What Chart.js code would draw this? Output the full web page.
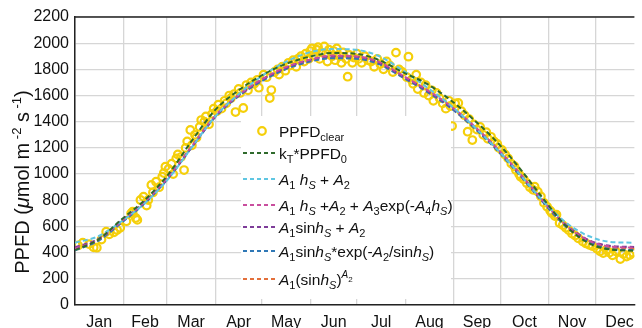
<!DOCTYPE html>
<html><head><meta charset="utf-8">
<script src="https://cdn.jsdelivr.net/npm/chart.js@4"></script>
<style>html,body{margin:0;padding:0;background:#fff}</style>
</head><body>
<canvas id="c" width="642" height="328" style="display:block;width:642px;height:328px"></canvas>
<script>
// ---- data ----
const monthLabels = ['Jan','Feb','Mar','Apr','May','Jun','Jul','Aug','Sep','Oct','Nov','Dec'];
const monthStarts = [0,31,59,90,120,151,181,212,243,273,304,334];
const monthMids = [15.5,45,74.5,105,135.5,166,196.5,227.5,258,288.5,319,349.5];
const yTicks = [0,200,400,600,800,1000,1200,1400,1600,1800,2000,2200];

const fitDays = [0,15,30,45,60,75,90,105,120,135,150,165,180,195,210,225,240,255,270,285,300,315,330,345,359];
const kTPPFD0  = [420,500,655,805,1000,1255,1490,1640,1755,1840,1895,1925,1920,1872,1780,1695,1575,1425,1255,1050,820,605,470,422,415];
const linHs    = [476,525,640,780,965,1205,1440,1610,1750,1855,1928,1955,1950,1902,1795,1670,1535,1375,1200,1005,800,630,525,480,476];
const linHsExp = [430,500,640,790,980,1215,1445,1605,1725,1815,1872,1905,1900,1857,1755,1650,1530,1380,1208,1012,800,610,490,445,438];
const linSin   = [440,505,645,790,975,1208,1440,1600,1720,1810,1870,1900,1897,1852,1750,1645,1525,1375,1203,1007,800,615,495,450,444];
const sinExp   = [418,490,630,780,970,1205,1435,1595,1710,1800,1857,1885,1882,1840,1740,1635,1515,1365,1193,997,790,600,480,425,420];
const sinPow   = [425,495,635,785,972,1207,1437,1597,1715,1803,1860,1888,1885,1844,1743,1638,1518,1368,1196,1000,795,605,485,440,434];

const clearDays = [2,5,9,12,14,17,20,22,25,27,29,
 33,36,37,39,40,42,44,46,47,49,50,52,54,56,57,58,
 60,62,63,65,66,68,70,71,72,74,75,77,78,80,81,83,84,86,88,89,
 91,92,94,96,97,99,100,102,103,105,106,108,110,111,113,115,117,118,
 121,123,125,126,128,130,131,133,135,137,138,140,142,143,145,147,148,150,
 151,152,153,155,156,157,158,160,161,162,163,165,166,167,168,170,171,172,174,175,176,178,179,
 181,182,184,186,188,190,192,194,196,198,200,202,204,206,208,210,
 213,214,216,217,219,220,222,224,225,227,229,230,232,234,236,238,240,241,242,
 244,246,248,250,252,253,255,256,258,260,262,264,265,267,269,271,272,
 274,276,278,280,282,283,285,286,288,290,292,294,295,297,299,301,303,
 305,306,308,309,311,313,315,317,319,321,323,326,328,330,332,
 335,337,339,341,343,345,347,350,352,354,356,358];
const clearPPFD = [455,476,465,440,438,500,560,540,555,573,590,
 640,700,713,665,650,802,827,760,802,917,860,942,900,980,1008,1057,
 1040,1080,1000,1120,1150,1130,1031,1200,1250,1337,1220,1300,1280,1360,1413,1400,1440,1380,1460,1500,
 1480,1530,1500,1560,1540,1600,1580,1610,1474,1650,1620,1505,1680,1640,1700,1690,1720,1660,
 1760,1740,1581,1642,1780,1800,1760,1820,1790,1850,1830,1870,1820,1880,1900,1860,1920,1880,
 1940,1960,1905,1950,1970,1880,1930,1975,1920,1860,1950,1900,1940,1870,1960,1900,1850,1930,1880,1744,1910,1850,1890,
 1920,1880,1850,1900,1870,1860,1820,1880,1840,1800,1860,1830,1780,1928,1800,1780,
 1740,1897,1720,1690,1760,1650,1700,1620,1680,1600,1640,1560,1620,1580,1540,1500,1560,1520,1367,
 1540,1543,1480,1450,1324,1420,1260,1380,1340,1360,1300,1320,1270,1285,1250,1230,1200,
 1184,1150,1120,1080,1060,1031,1000,980,960,930,900,880,904,866,830,780,750,
 720,703,680,690,626,610,590,570,545,530,510,484,470,460,450,
 430,410,397,420,400,380,410,351,390,370,382,400];

// ---- styles ----
const FONT = '"Liberation Sans", Arial, Helvetica, sans-serif';
const curves = [
  {name:'kT', data:kTPPFD0,  color:'#2f6a2c'},
  {name:'linHs', data:linHs, color:'#5fc6e2'},
  {name:'linHsExp', data:linHsExp, color:'#c94e9e'},
  {name:'linSin', data:linSin, color:'#7e3d99'},
  {name:'sinExp', data:sinExp, color:'#2f78b6'},
  {name:'sinPow', data:sinPow, color:'#e36f3a'}
];
const T=t=>({t}), I=t=>({t,i:1}), Sb=t=>({t,sub:1}), SbI=t=>({t,sub:1,i:1});
const legendRows = [
  [T('PPFD'),Sb('clear')],
  [T('k'),Sb('T'),T('*PPFD'),Sb('0')],
  [I('A'),Sb('1'),T(' '),I('h'),SbI('S'),T(' + '),I('A'),Sb('2')],
  [I('A'),Sb('1'),T(' '),I('h'),SbI('S'),T(' +'),I('A'),Sb('2'),T(' + '),I('A'),Sb('3'),T('exp(-'),I('A'),Sb('4'),I('h'),SbI('S'),T(')')],
  [I('A'),Sb('1'),T('sin'),I('h'),SbI('S'),T(' + '),I('A'),Sb('2')],
  [I('A'),Sb('1'),T('sin'),I('h'),SbI('S'),T('*exp(-'),I('A'),Sb('2'),T('/sin'),I('h'),SbI('S'),T(')')],
  [I('A'),Sb('1'),T('(sin'),I('h'),SbI('S'),T(')'),{t:'A',i:1,size:10,dy:-7},{t:'2',size:8,dy:-3}]
];
const legendY = [131,153,179,205,227,251,279];

function rich(ctx, x, y, segs, base, draw=true) {
  for (const s of segs) {
    const size = s.size || ((s.sub||s.sup) ? Math.round(base*0.68) : base);
    const dy = s.dy !== undefined ? s.dy : (s.sub ? base*0.32 : (s.sup ? -base*0.45 : 0));
    ctx.font = (s.i?'italic ':'') + size + 'px ' + FONT;
    if (draw) ctx.fillText(s.t, x, y+dy);
    x += ctx.measureText(s.t).width;
  }
  return x;
}

const decor = {
  id:'decor',
  afterDraw(chart){
    const ctx = chart.ctx, a = chart.chartArea;
    ctx.save();
    ctx.strokeStyle='#222'; ctx.lineWidth=1.5;
    ctx.beginPath(); ctx.moveTo(a.left, a.top); ctx.lineTo(a.right, a.top); ctx.stroke();
    ctx.fillStyle='#fff';
    ctx.fillRect(241,116,210,183);
    ctx.textBaseline='alphabetic'; ctx.textAlign='left';
    legendRows.forEach((row,k)=>{
      const cy = legendY[k];
      if (k===0) {
        ctx.beginPath(); ctx.arc(262, cy, 3.8, 0, Math.PI*2);
        ctx.strokeStyle='#f5cf0a'; ctx.lineWidth=2.2; ctx.stroke();
      } else {
        ctx.strokeStyle=curves[k-1].color; ctx.lineWidth=2; ctx.setLineDash([4,3]);
        ctx.beginPath(); ctx.moveTo(243, cy); ctx.lineTo(276, cy); ctx.stroke();
        ctx.setLineDash([]);
      }
      ctx.fillStyle='#111';
      rich(ctx, 279, cy+5.5, row, 15.5);
    });
    const title=[T('PPFD ('),I('\u03bc'),T('mol m'),{t:' -2',size:13,dy:-8},T(' s'),{t:' -1',size:13,dy:-8},T(')')];
    ctx.translate(22, 182); ctx.rotate(-Math.PI/2);
    const w = rich(ctx, 0, 0, title, 20, false);
    ctx.fillStyle='#111';
    rich(ctx, -w/2, 7, title, 20);
    ctx.restore();
  }
};

const datasets = curves.map(c=>({
  type:'line', label:c.name,
  data: fitDays.map((d,i)=>({x:d, y:c.data[i]})),
  borderColor:c.color, borderWidth:2, borderDash:[5,3],
  pointRadius:0, cubicInterpolationMode:'monotone', fill:false
}));
datasets.push({
  type:'scatter', label:'PPFDclear',
  data: clearDays.map((d,i)=>({x:d, y:clearPPFD[i]})),
  borderColor:'#f5cf0a', backgroundColor:'rgba(0,0,0,0)', borderWidth:2.2,
  pointRadius:3.8, pointStyle:'circle'
});

new Chart(document.getElementById('c'), {
  type:'scatter',
  data:{datasets},
  options:{
    responsive:false, animation:false,
    layout:{padding:{top:17,right:0,left:0,bottom:0}},
    plugins:{legend:{display:false}, tooltip:{enabled:false}},
    scales:{
      x:{type:'linear', position:'bottom', min:0, max:359,
        afterBuildTicks:s=>{s.ticks=monthStarts.map(v=>({value:v}));},
        ticks:{display:false}, grid:{color:'#d6d6d6', lineWidth:1.3, drawTicks:false},
        border:{color:'#222', width:1.5},
        afterFit:s=>{s.height=0;}},
      x2:{type:'linear', position:'bottom', min:0, max:359,
        afterBuildTicks:s=>{s.ticks=monthMids.map(v=>({value:v}));},
        ticks:{autoSkip:false, maxRotation:0, padding:8, color:'#111', font:{family:FONT,size:16},
          callback:(v,i)=>monthLabels[i]},
        grid:{display:false, drawTicks:false}, border:{display:false},
        afterFit:s=>{s.height=23;}},
      y:{type:'linear', min:0, max:2200,
        afterBuildTicks:s=>{s.ticks=yTicks.map(v=>({value:v}));},
        ticks:{padding:6, color:'#111', font:{family:FONT,size:16}, callback:v=>String(v)},
        grid:{color:'#d6d6d6', lineWidth:1.3, drawTicks:false},
        border:{color:'#222', width:1.5},
        afterFit:s=>{s.width=75;}}
    }
  },
  plugins:[decor]
});
</script>
</body></html>
